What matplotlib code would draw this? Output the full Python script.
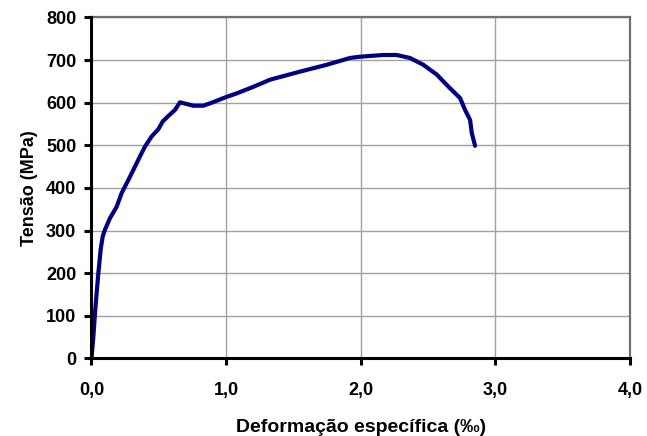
import matplotlib
matplotlib.use("Agg")
import matplotlib.pyplot as plt

deformacao = [0.0, 0.014, 0.026, 0.038, 0.051, 0.068, 0.083, 0.10, 0.137, 0.187,
              0.224, 0.274, 0.323, 0.36, 0.397, 0.447, 0.497, 0.529, 0.571, 0.62,
              0.657, 0.707, 0.757, 0.83, 0.893, 0.997, 1.079, 1.2, 1.326, 1.549,
              1.747, 1.92, 1.995, 2.168, 2.267, 2.366, 2.465, 2.565, 2.663, 2.738,
              2.775, 2.812, 2.825, 2.849]
tensao = [0, 51, 106, 153, 200, 255, 286, 302, 329, 356,
          388, 419, 450, 474, 497, 521, 538, 556, 569, 583,
          601, 597, 593, 593, 600, 613, 622, 637, 654, 673,
          689, 705, 708, 712, 712, 705, 689, 666, 634, 611,
          583, 560, 529, 499]

x_ticks = [0, 1, 2, 3, 4]
x_labels = ["0,0", "1,0", "2,0", "3,0", "4,0"]
y_ticks = [0, 100, 200, 300, 400, 500, 600, 700, 800]

plt.rcParams['font.family'] = ['Liberation Sans', 'DejaVu Sans']
plt.rcParams['font.weight'] = 'bold'

fig = plt.figure(figsize=(6.47, 4.36), dpi=100)
ax = fig.add_axes([0.1414, 0.1778, 0.8323, 0.7821])

ax.plot(deformacao, tensao, color='#000080', lw=3.0, solid_capstyle='round',
        solid_joinstyle='round', zorder=3)

ax.set_xlim(0, 4)
ax.set_ylim(0, 800)
ax.set_xticks(x_ticks)
ax.set_xticklabels(x_labels)
ax.set_yticks(y_ticks)
ax.grid(True, color='#a0a0a0', lw=1.0)
ax.set_axisbelow(True)

for side in ['left', 'bottom']:
    ax.spines[side].set_linewidth(2.2)
    ax.spines[side].set_color('black')
    ax.spines[side].set_zorder(4)
for side in ['top', 'right']:
    ax.spines[side].set_linewidth(1.6)
    ax.spines[side].set_color('#707070')

ax.tick_params(axis='both', direction='out', length=5, width=2.2,
               labelsize=13)
ax.tick_params(axis='y', pad=6)
ax.tick_params(axis='x', pad=12)

ax.set_xlabel('Deformação específica (‰)', fontsize=14, fontweight='bold', labelpad=14)
ax.set_ylabel('Tensão (MPa)', fontsize=13, fontweight='bold', labelpad=6)

fig.savefig('out.png', dpi=100)
